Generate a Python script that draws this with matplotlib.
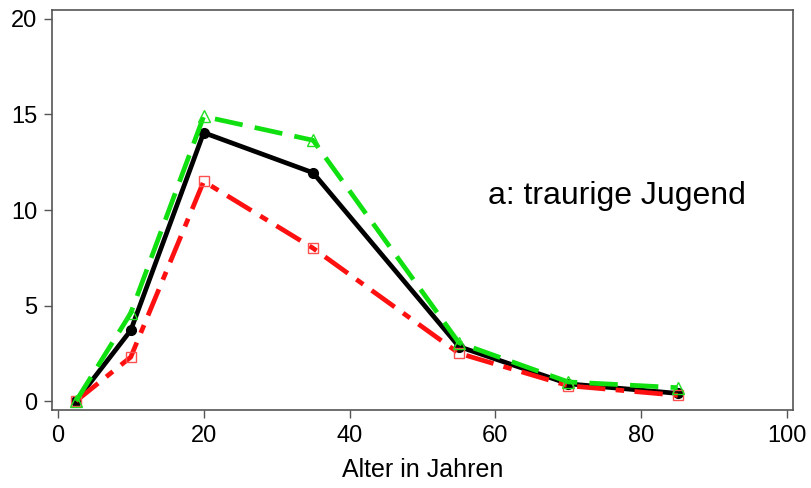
import matplotlib
matplotlib.use('Agg')
import matplotlib.pyplot as plt

plt.rcParams['font.family'] = ['Liberation Sans', 'DejaVu Sans']

alter = [2.5, 10, 20, 35, 55, 70, 85]
schwarz = [0.0, 3.7, 14.05, 11.95, 2.85, 0.9, 0.4]
gruen = [0.0, 4.6, 14.9, 13.65, 3.05, 1.0, 0.7]
rot = [0.0, 2.3, 11.5, 8.0, 2.5, 0.8, 0.3]
xticks = [0, 20, 40, 60, 80, 100]
yticks = [0, 5, 10, 15, 20]

fig = plt.figure(figsize=(8.12, 4.88), dpi=100)
ax = fig.add_axes([0.064, 0.1598, 0.9126, 0.8197])

ax.plot(alter, schwarz, color='black', lw=3.4, marker='o', ms=7, zorder=3)
ax.plot(alter, rot, color='#ff1010', lw=3.4, dashes=(6, 2.2, 1.8, 2.2),
        marker='s', ms=7, mfc='none', mec='#ff5050', mew=1.0, zorder=4)
ax.plot(alter, gruen, color='#10e010', lw=3.4, dashes=(6, 2.6),
        marker='^', ms=8, mfc='none', mec='#20e020', mew=1.0, zorder=5)

ax.text(59.0, 10.3, 'a: traurige Jugend', fontsize=23, va='baseline', ha='left')

ax.set_xlim(-0.8, 100.8)
ax.set_ylim(-0.47, 20.47)
ax.set_xticks(xticks)
ax.set_yticks(yticks)
ax.tick_params(labelsize=17, length=5.5, width=1, color='#555555', pad=5)
for s in ax.spines.values():
    s.set_color('#555555')
    s.set_linewidth(1.2)
ax.set_xlabel('Alter in Jahren', fontsize=18, labelpad=8)

fig.savefig('out.png', dpi=100)
